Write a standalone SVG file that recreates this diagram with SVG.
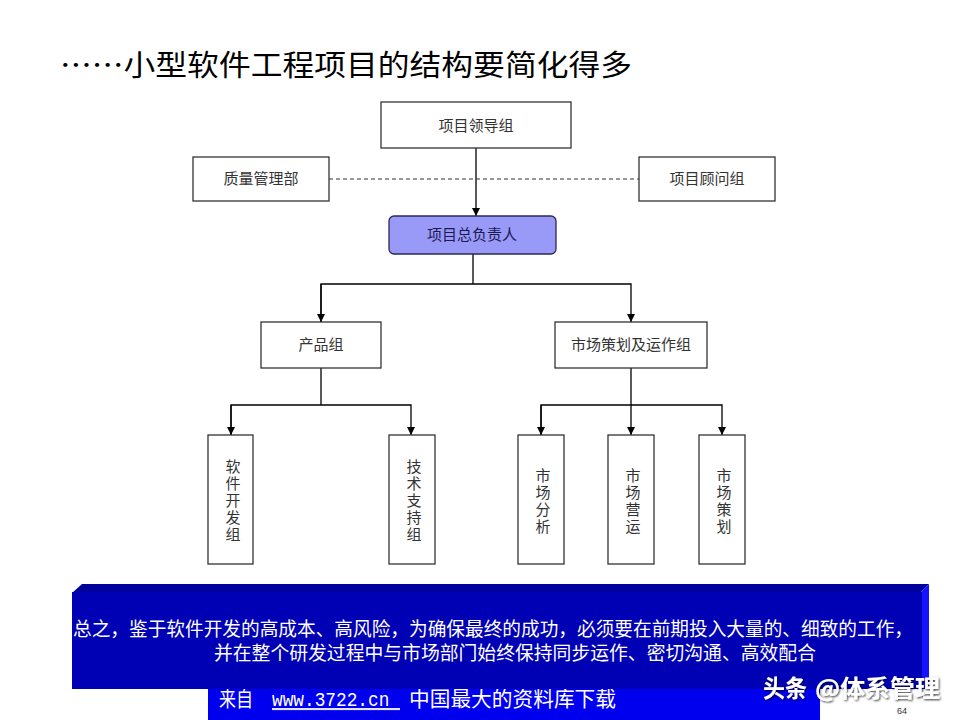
<svg xmlns="http://www.w3.org/2000/svg" width="960" height="720" viewBox="0 0 960 720">
<defs>
<style>
.box{fill:#fff;stroke:#333;stroke-width:1.3}
.lbl{font-family:"Noto Sans CJK SC","Liberation Sans",sans-serif;font-size:15px;fill:#333;text-anchor:middle}
.vt{font-family:"Noto Sans CJK SC","Liberation Sans",sans-serif;font-size:15px;fill:#333;writing-mode:vertical-rl;letter-spacing:2px}
.ln{fill:none;stroke:#000;stroke-width:1.3}
.wt{font-family:"Noto Sans CJK SC","Liberation Sans",sans-serif;fill:#fff}
.st{font-family:"Liberation Sans","Noto Sans CJK SC",sans-serif;fill:#fff;font-size:19px}
</style>
<marker id="ah" viewBox="0 0 10 10" refX="10" refY="5" markerWidth="8" markerHeight="8" markerUnits="userSpaceOnUse" orient="auto">
<path d="M0,0 L10,5 L0,10 Z" fill="#000"/>
</marker>
<filter id="sh" x="-10%" y="-30%" width="130%" height="160%">
<feDropShadow dx="1" dy="1" stdDeviation="1" flood-color="#000" flood-opacity="0.8"/>
</filter>
</defs>
<rect width="960" height="720" fill="#fff"/>

<text x="60" y="76" font-family="Noto Sans CJK SC,Liberation Sans,sans-serif" font-size="29" fill="#000" textLength="572" lengthAdjust="spacingAndGlyphs">……小型软件工程项目的结构要简化得多</text>

<g id="connectors">
<line x1="476" y1="148" x2="476" y2="216" class="ln" marker-end="url(#ah)"/>
<line x1="329" y1="179" x2="639" y2="179" fill="none" stroke="#333" stroke-width="1.1" stroke-dasharray="4 3"/>
<polyline points="473,254 473,284" class="ln"/>
<polyline points="321,322 321,284 631,284 631,322" class="ln" marker-end="url(#ah)"/>
<line x1="321" y1="284" x2="321" y2="322" class="ln" marker-end="url(#ah)"/>
<polyline points="321,368 321,405" class="ln"/>
<polyline points="231,435 231,405 411,405 411,435" class="ln" marker-end="url(#ah)"/>
<line x1="231" y1="405" x2="231" y2="435" class="ln" marker-end="url(#ah)"/>
<polyline points="631,368 631,435" class="ln" marker-end="url(#ah)"/>
<polyline points="541,435 541,405 722,405 722,435" class="ln" marker-end="url(#ah)"/>
<line x1="541" y1="405" x2="541" y2="435" class="ln" marker-end="url(#ah)"/>
</g>

<g id="n-lead"><rect x="381" y="102" width="190" height="46" class="box"/><text x="476" y="131" class="lbl">项目领导组</text></g>
<g id="n-quality"><rect x="193" y="157" width="136" height="44" class="box"/><text x="261" y="184" class="lbl">质量管理部</text></g>
<g id="n-advisor"><rect x="639" y="157" width="136" height="44" class="box"/><text x="707" y="184" class="lbl">项目顾问组</text></g>
<g id="n-chief"><rect x="389" y="216" width="167" height="38" rx="5" fill="#9999f8" stroke="#2a2a55" stroke-width="1.3"/><text x="472" y="240" class="lbl" style="fill:#1a1a50">项目总负责人</text></g>
<g id="n-product"><rect x="261" y="322" width="120" height="46" class="box"/><text x="321" y="350" class="lbl">产品组</text></g>
<g id="n-market"><rect x="555" y="322" width="152" height="46" class="box"/><text x="631" y="350" class="lbl">市场策划及运作组</text></g>

<g id="n-dev"><rect x="208" y="435" width="45" height="129" class="box"/>
<text class="vt" x="233" y="459">软件开发组</text></g>
<g id="n-tech"><rect x="389" y="435" width="46" height="129" class="box"/>
<text class="vt" x="414" y="459">技术支持组</text></g>
<g id="n-analysis"><rect x="518" y="435" width="46" height="129" class="box"/>
<text class="vt" x="543" y="468">市场分析</text></g>
<g id="n-ops"><rect x="608" y="435" width="46" height="129" class="box"/>
<text class="vt" x="633" y="468">市场营运</text></g>
<g id="n-plan"><rect x="699" y="435" width="46" height="129" class="box"/>
<text class="vt" x="724" y="468">市场策划</text></g>

<g id="banner">
<rect x="208" y="686" width="612" height="34" fill="#0000ee"/>
<text x="219" y="706" class="wt" font-size="21"><tspan textLength="34" lengthAdjust="spacingAndGlyphs">来自</tspan><tspan x="272" font-family="Liberation Mono,monospace" text-decoration="underline" textLength="128" lengthAdjust="spacingAndGlyphs">www.3722.cn </tspan><tspan x="409" textLength="207" lengthAdjust="spacingAndGlyphs">中国最大的资料库下载</tspan></text>
<line x1="272" y1="709" x2="400" y2="709" stroke="#c8c8ff" stroke-width="1.2"/>
</g>

<g id="summary">
<polygon points="82,584 929,584 921,592 72,593" fill="#00009a"/>
<polygon points="921,592 929,584 929,689 921,689" fill="#1414ff"/>
<rect x="72" y="592" width="850" height="97" fill="#0000b4"/>
<text class="st"><tspan x="73" y="636" textLength="840" lengthAdjust="spacingAndGlyphs">总之，鉴于软件开发的高成本、高风险，为确保最终的成功，必须要在前期投入大量的、细致的工作，</tspan><tspan x="214" y="660" textLength="602" lengthAdjust="spacingAndGlyphs">并在整个研发过程中与市场部门始终保持同步运作、密切沟通、高效配合</tspan></text>
</g>

<text x="897" y="714" font-family="Liberation Sans,sans-serif" font-size="9" fill="#333">64</text>
<text x="763" y="697" class="wt" font-size="24" font-weight="bold" filter="url(#sh)"><tspan textLength="44" lengthAdjust="spacingAndGlyphs">头条</tspan><tspan x="815" textLength="125" lengthAdjust="spacingAndGlyphs">@体系管理</tspan></text>
</svg>
